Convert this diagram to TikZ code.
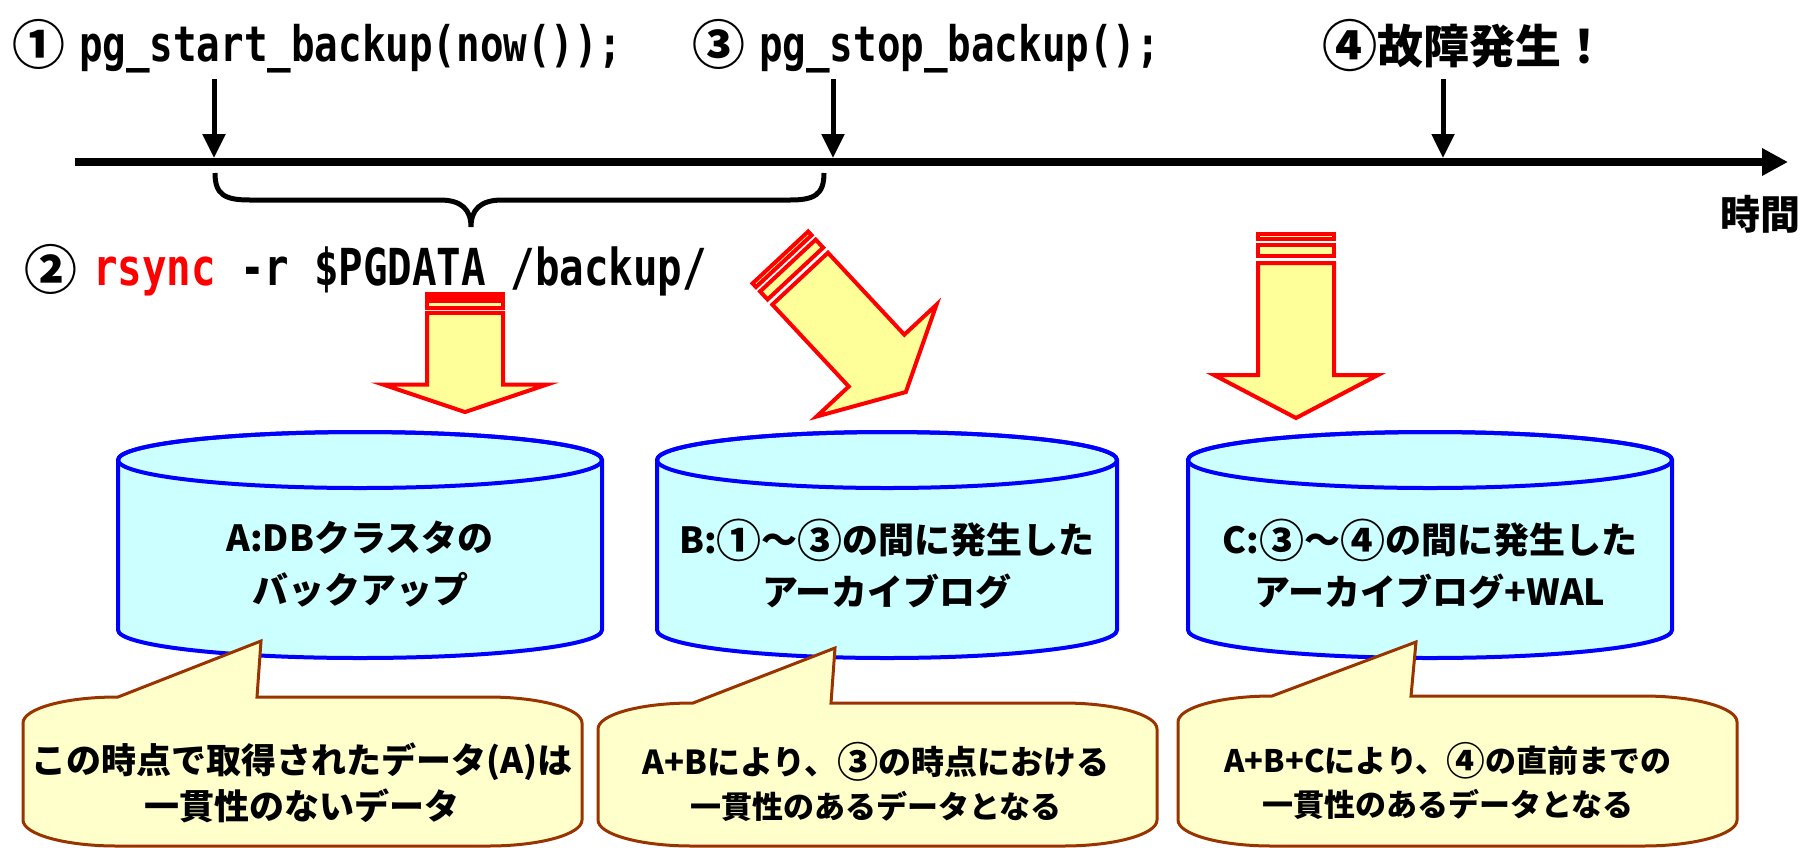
\documentclass[tikz,border=0pt]{standalone}
\usepackage{graphicx}
\usepackage{fontspec}
\setmainfont{Noto Sans CJK JP}
\newfontfamily\codefont{DejaVu Sans Mono}[FakeStretch=0.8]
\usetikzlibrary{arrows.meta}

\definecolor{dbblue}{HTML}{0000FF}
\definecolor{dbfill}{HTML}{CCFFFF}
\definecolor{arrfill}{HTML}{FFFF99}
\definecolor{notefill}{HTML}{FFFFCC}
\definecolor{notedraw}{HTML}{993300}

\tikzstyle{dbcyl}=[draw=dbblue,fill=dbfill,line width=4pt]
\tikzstyle{barrow}=[draw=red,fill=arrfill,line width=4pt,line join=miter]
\tikzstyle{note}=[draw=notedraw,fill=notefill,line width=3pt]
\tikzstyle{cmd}=[anchor=west,inner sep=0pt,font=\bfseries\fontsize{44}{50}\selectfont]
\tikzstyle{dbtext}=[align=center,inner sep=0pt,font=\bfseries\fontsize{36}{52}\selectfont]
\tikzstyle{notetext}=[align=center,inner sep=0pt,font=\bfseries\fontsize{31}{44}\selectfont]
\tikzstyle{tick}=[line width=5pt,-{Triangle[length=24pt,width=22pt]}]

% circled number, a bit larger than the font gives it
\newcommand{\cnum}[1]{\makebox[1.25em]{\raisebox{-0.09em}{\scalebox{1.25}{#1}}}}
\newcommand{\code}[2]{{\codefont\fontsize{#1}{#1}\selectfont #2}}

% database cylinder: name, centre x, half width, text
\newcommand{\dbcylinder}[4]{%
  \filldraw[dbcyl] (#2-#3,460) -- (#2-#3,630) arc[start angle=180,end angle=360,x radius=#3pt,y radius=28pt]
    -- (#2+#3,460) arc[start angle=0,end angle=180,x radius=#3pt,y radius=28pt] -- cycle;
  \draw[dbcyl,fill=none] (#2,460) ellipse[x radius=#3pt,y radius=28pt];
  \node[dbtext] (#1) at (#2,564) {#4};}

% striped block arrow, drawn pointing down
\newcommand{\blockarrow}[1]{%
  \begin{scope}[#1]
    \filldraw[barrow] (-38,2) rectangle (38,7);
    \filldraw[barrow] (-38,13) rectangle (38,24);
    \filldraw[barrow] (-38,31) -- (38,31) -- (38,143) -- (82,143) -- (0,186) -- (-82,143) -- (-38,143) -- cycle;
  \end{scope}}

% callout: left, right, top, pointer base left, pointer base right, tip
\newcommand{\callout}[6]{%
  \filldraw[note] (#1+94,#3) -- (#4,#3) -- #6 -- (#5,#3) -- (#2-94,#3)
    arc[start angle=90,end angle=0,x radius=94pt,y radius=26pt] -- (#2,820)
    arc[start angle=0,end angle=-90,x radius=94pt,y radius=26pt] -- (#1+94,846)
    arc[start angle=270,end angle=180,x radius=94pt,y radius=26pt] -- (#1,#3+26)
    arc[start angle=180,end angle=90,x radius=94pt,y radius=26pt] -- cycle;}

\begin{document}
\begin{tikzpicture}[x=1pt,y=-1pt]
  \useasboundingbox (0,0) rectangle (1814,847);

  % time line
  \coordinate (t0) at (75,162);
  \coordinate (tend) at (1788,162);
  \draw[line width=8pt,-{Triangle[length=26pt,width=26pt]}] (t0) -- (tend);
  \node[font=\bfseries\fontsize{40}{44}\selectfont,inner sep=0pt] (time) at (1760,214) {時間};

  \node[cmd] (start) at (12,46) {\raisebox{-0.08em}{\scalebox{1.2}{①}}\hspace{14pt}\code{49}{pg\_start\_backup(now());}};
  \node[cmd] (stop) at (692,46) {\raisebox{-0.08em}{\scalebox{1.2}{③}}\hspace{14pt}\code{49}{pg\_stop\_backup();}};
  \node[cmd,font=\bfseries\fontsize{46}{50}\selectfont] (fail) at (1322,46) {\raisebox{-0.08em}{\scalebox{1.2}{④}}故障発生！};

  \coordinate (s1) at (214,79);  \coordinate (t1) at (214,158);
  \coordinate (s3) at (833,79);  \coordinate (t3) at (833,158);
  \coordinate (s4) at (1443,79); \coordinate (t4) at (1443,158);
  \draw[tick] (s1) -- (t1);
  \draw[tick] (s3) -- (t3);
  \draw[tick] (s4) -- (t4);

  % brace under the backup period
  \coordinate (b1) at (215,173);
  \coordinate (b3) at (824,173);
  \draw[line width=5pt] (b1) .. controls (215,195) and (225,200) .. (250,200) -- (440,200)
    .. controls (462,200) and (471,210) .. (471,227) .. controls (471,210) and (480,200) .. (502,200)
    -- (790,200) .. controls (814,200) and (824,195) .. (b3);

  \node[cmd] (rsync) at (24,270) {\raisebox{-0.08em}{\scalebox{1.2}{②}}\hspace{16pt}\code{51}{{\color{red}rsync} -r \$PGDATA /backup/}};

  % block arrows
  \blockarrow{shift={(465,293)},yscale=0.64}
  \blockarrow{shift={(779,256)},rotate=43}
  \blockarrow{shift={(1296,232)}}

  % databases
  \dbcylinder{cylA}{360}{242}{A:DBクラスタの\\バックアップ}
  \dbcylinder{cylB}{887}{230}{B:\cnum{①}～\cnum{③}の間に発生した\\アーカイブログ}
  \dbcylinder{cylC}{1430}{242}{C:\cnum{③}～\cnum{④}の間に発生した\\アーカイブログ+WAL}

  % notes
  \callout{23}{582}{697}{118}{257}{(261,641)}
  \callout{598}{1157}{703}{693}{831}{(835,648)}
  \callout{1178}{1737}{696}{1272}{1411}{(1416,642)}
  \node[notetext,font=\bfseries\fontsize{35}{46}\selectfont] (noteA) at (302,783) {この時点で取得されたデータ(A)は\\一貫性のないデータ};
  \node[notetext] (noteB) at (876,782) {{\fontsize{33}{44}\selectfont A+Bにより、\cnum{③}の時点における}\\一貫性のあるデータとなる};
  \node[notetext] (noteC) at (1448,781) {A+B+Cにより、\cnum{④}の直前までの\\一貫性のあるデータとなる};
\end{tikzpicture}
\end{document}
